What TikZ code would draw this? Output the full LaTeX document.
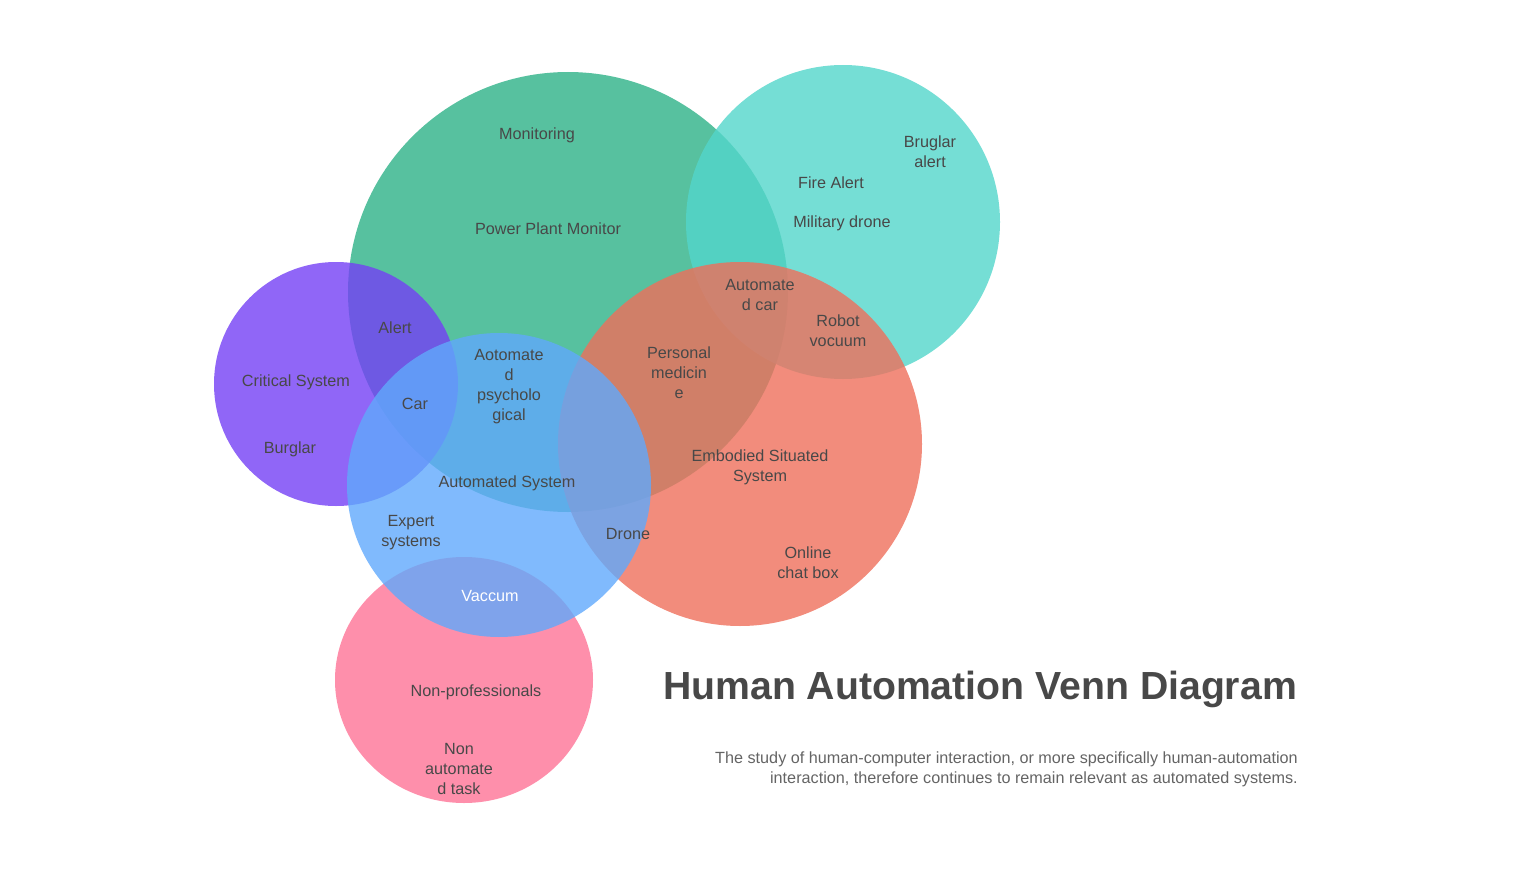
\documentclass[tikz,border=0pt]{standalone}
\usepackage{fontspec}
\setmainfont{Liberation Sans}
\definecolor{cgreen}{RGB}{45,177,135}
\definecolor{cteal}{RGB}{83,214,203}
\definecolor{cpurple}{RGB}{116,64,245}
\definecolor{cblue}{RGB}{96,169,252}
\definecolor{csalmon}{RGB}{239,111,91}
\definecolor{cpink}{RGB}{254,115,150}
\definecolor{ctext}{RGB}{72,72,72}
\definecolor{csub}{RGB}{100,100,100}
\begin{document}
\begin{tikzpicture}[x=1pt,y=-1pt,
  blob/.style={opacity=0.8},
  lbl/.style={text=ctext,font=\fontsize{16.2}{20}\selectfont,align=center,inner sep=0pt},
  ttl/.style={text=ctext,font=\fontsize{39.2}{44}\selectfont\bfseries,inner sep=0pt},
  sub/.style={text=csub,font=\fontsize{16.2}{20}\selectfont,align=right,inner sep=0pt,anchor=east}]
\useasboundingbox (0,0) rectangle (1516,872);
% circles
\fill[cgreen,blob] (568,292) circle (220);
\fill[cteal,blob] (843,222) circle (157);
\fill[cpurple,blob] (336,384) circle (122);
\fill[csalmon,blob] (740,444) circle (182);
\fill[cpink,blob] (464,680) ellipse (129 and 123);
\fill[cblue,blob] (499,485) circle (152);
% labels
\node[lbl] (monitoring) at (537,135) {Monitoring};
\node[lbl] (power) at (548,229) {Power Plant Monitor};
\node[lbl] (fire) at (831,183) {Fire Alert};
\node[lbl] (military) at (842,223) {Military drone};
\node[lbl] (bruglar) at (930,152) {Bruglar\\alert};
\node[lbl] (autocar) at (760,295) {Automate\\d car};
\node[lbl] (robot) at (838,331) {Robot\\vocuum};
\node[lbl] (alert) at (395,328) {Alert};
\node[lbl] (critical) at (296,382) {Critical System};
\node[lbl] (burglar) at (290,449) {Burglar};
\node[lbl] (car) at (415,404) {Car};
\node[lbl] (psych) at (509,387) {Aotomate\\d\\psycholo\\gical};
\node[lbl] (medicine) at (679,373) {Personal\\medicin\\e};
\node[lbl] (autosys) at (507,483) {Automated System};
\node[lbl] (embodied) at (760,467) {Embodied Situated\\System};
\node[lbl] (expert) at (411,533) {Expert\\systems};
\node[lbl] (drone) at (628,534) {Drone};
\node[lbl] (online) at (808,563) {Online\\chat box};
\node[lbl,text=white] (vaccum) at (490,596) {Vaccum};
\node[lbl] (nonprof) at (476,692) {Non-professionals};
\node[lbl] (nonauto) at (459,769) {Non\\automate\\d task};
% title
\node[ttl] (title) at (980,689) {Human Automation Venn Diagram};
\node[sub] (subtitle) at (1298,769) {The study of human-computer interaction, or more specifically human-automation\\interaction, therefore continues to remain relevant as automated systems.};
\end{tikzpicture}
\end{document}
